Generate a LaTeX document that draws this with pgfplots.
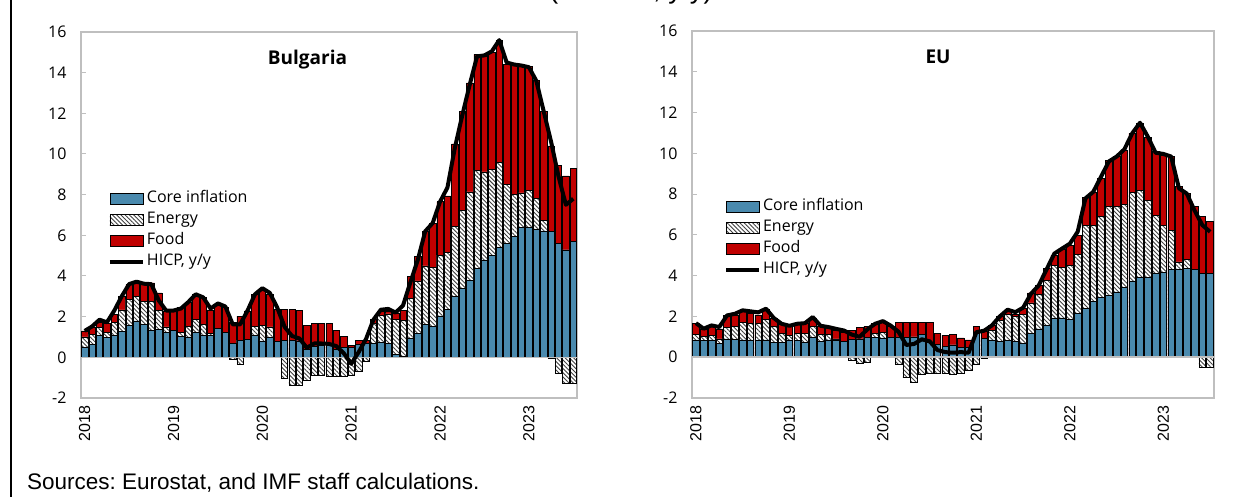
\documentclass[border=0pt]{standalone}
\usepackage{fontspec}
\usepackage{pgfplots}
\usepackage{pgfplotstable}
\pgfplotsset{compat=1.18}
\usetikzlibrary{patterns.meta}
\newfontfamily\seg{Open Sans}
\newfontfamily\ari{Liberation Sans}
\definecolor{coreblue}{HTML}{4A8AAE}
\definecolor{foodred}{HTML}{C00000}
\definecolor{framegray}{HTML}{BFBFBF}
\definecolor{hatchgray}{HTML}{404040}
\frenchspacing

% m = month (1 = Jan 2018); bar tops are cumulative: core, core+energy, core+energy+food
\pgfplotstableread{
m core engtop foodtop engneg hicp
1 0.49 1.00 1.30 nan 1.30
2 0.65 1.14 1.46 nan 1.52
3 1.06 1.46 1.74 nan 1.85
4 0.98 1.22 1.67 nan 1.72
5 1.09 1.70 2.10 nan 2.30
6 1.27 2.33 2.98 nan 3.00
7 1.58 2.85 3.58 nan 3.60
8 1.79 3.00 3.74 nan 3.72
9 1.60 2.76 3.66 nan 3.62
10 1.33 2.76 3.66 nan 3.60
11 1.37 2.30 3.17 nan 2.80
12 1.22 1.50 2.28 nan 2.30
13 1.33 1.33 2.28 nan 2.30
14 1.02 1.22 2.44 nan 2.40
15 1.00 1.54 2.70 nan 2.72
16 1.22 1.87 3.09 nan 3.10
17 1.06 1.60 2.93 nan 2.95
18 1.06 1.19 2.33 nan 2.40
19 1.41 1.41 2.55 nan 2.65
20 1.22 1.22 2.47 nan 2.50
21 0.68 0.68 1.70 -0.10 1.62
22 0.85 0.85 2.03 -0.33 1.62
23 0.90 0.90 2.28 nan 2.30
24 1.06 1.54 3.09 nan 3.10
25 0.81 1.58 3.33 nan 3.40
26 0.98 1.50 3.09 nan 3.17
27 0.78 0.78 2.36 nan 2.45
28 0.85 0.85 2.36 -1.02 1.50
29 0.85 0.85 2.36 -1.38 1.05
30 0.81 0.81 2.30 -1.38 0.93
31 0.40 0.40 1.58 -1.14 0.47
32 0.54 0.54 1.66 -0.90 0.68
33 0.57 0.57 1.66 -0.90 0.68
34 0.57 0.57 1.66 -0.95 0.66
35 0.40 0.40 1.33 -0.95 0.55
36 0.49 0.49 1.02 -0.95 0.20
37 0.49 0.49 0.57 -0.88 -0.32
38 0.62 0.62 0.82 -0.69 0.25
39 0.68 0.68 0.82 -0.20 0.90
40 0.70 1.68 1.87 nan 1.85
41 0.75 2.06 2.25 nan 2.34
42 0.67 2.14 2.25 nan 2.38
43 0.15 1.85 2.17 nan 2.20
44 0.05 1.80 2.30 nan 2.55
45 0.95 2.90 3.97 nan 3.70
46 1.19 3.76 4.95 nan 4.80
47 1.60 4.50 6.18 nan 6.20
48 1.52 4.43 6.58 nan 6.60
49 2.04 5.03 7.65 nan 7.65
50 2.34 5.15 7.94 nan 8.35
51 3.00 6.45 10.50 nan 10.30
52 3.40 7.24 12.10 nan 11.90
53 3.80 8.14 13.50 nan 13.40
54 4.38 9.20 14.90 nan 14.80
55 4.79 9.12 14.80 nan 14.85
56 5.03 9.23 15.00 nan 15.05
57 5.41 9.60 15.60 nan 15.60
58 5.60 8.50 14.40 nan 14.50
59 5.93 8.00 14.40 nan 14.40
60 6.39 8.09 14.40 nan 14.35
61 6.39 8.19 14.30 nan 14.27
62 6.29 7.81 13.60 nan 13.60
63 6.22 6.72 12.10 nan 12.10
64 6.18 6.18 10.40 -0.05 10.60
65 5.60 5.60 9.44 -0.77 8.90
66 5.28 5.28 8.92 -1.26 7.50
67 5.69 5.69 9.28 -1.26 7.80
}\bgdata

\pgfplotstableread{
m core engtop foodtop engneg hicp
1 0.85 1.10 1.64 nan 1.67
2 0.82 1.03 1.36 nan 1.40
3 0.85 1.07 1.52 nan 1.56
4 0.66 0.90 1.39 nan 1.48
5 0.90 1.48 2.05 nan 2.05
6 0.87 1.52 2.08 nan 2.13
7 0.85 1.72 2.30 nan 2.30
8 0.82 1.64 2.13 nan 2.25
9 0.85 1.64 2.08 nan 2.20
10 0.85 1.84 2.33 nan 2.38
11 0.74 1.52 1.89 nan 1.92
12 0.74 1.15 1.61 nan 1.64
13 0.85 1.07 1.51 nan 1.54
14 0.82 1.15 1.61 nan 1.64
15 0.74 1.18 1.67 nan 1.67
16 0.98 1.51 1.89 nan 1.97
17 0.79 1.10 1.52 nan 1.54
18 0.85 1.11 1.48 nan 1.48
19 0.85 0.90 1.31 nan 1.39
20 0.79 0.79 1.23 nan 1.31
21 0.87 0.87 1.31 -0.16 1.11
22 0.90 0.90 1.48 -0.30 1.00
23 0.98 0.98 1.52 -0.25 1.36
24 0.98 1.18 1.64 nan 1.64
25 0.95 1.23 1.72 nan 1.77
26 0.98 0.98 1.52 nan 1.55
27 0.98 0.98 1.72 -0.33 1.25
28 0.98 0.98 1.72 -1.00 0.60
29 1.00 1.00 1.72 -1.23 0.65
30 1.10 1.10 1.69 -0.82 0.88
31 0.74 0.74 1.69 -0.79 0.78
32 0.62 0.62 1.15 -0.80 0.35
33 0.54 0.54 1.07 -0.80 0.25
34 0.60 0.60 1.10 -0.85 0.22
35 0.50 0.50 0.95 -0.77 0.25
36 0.50 0.50 0.85 -0.65 0.22
37 1.15 1.15 1.50 -0.33 1.23
38 0.93 0.93 1.25 -0.05 1.30
39 0.85 1.31 1.56 nan 1.56
40 0.77 1.80 2.00 nan 2.00
41 0.82 2.10 2.30 nan 2.33
42 0.79 2.00 2.10 nan 2.21
43 0.66 2.10 2.38 nan 2.43
44 1.18 2.66 3.15 nan 3.11
45 1.39 3.08 3.52 nan 3.52
46 1.56 3.77 4.34 nan 4.30
47 1.93 4.50 5.00 nan 5.08
48 1.93 4.39 5.28 nan 5.33
49 1.84 4.50 5.49 nan 5.57
50 2.13 5.05 5.98 nan 6.15
51 2.38 6.48 7.84 nan 7.79
52 2.74 6.48 8.11 nan 8.11
53 2.95 6.92 8.77 nan 8.85
54 3.03 7.38 9.64 nan 9.60
55 3.20 7.38 9.84 nan 9.84
56 3.44 7.51 10.16 nan 10.20
57 3.74 8.07 10.98 nan 10.98
58 3.93 8.20 11.48 nan 11.50
59 3.93 7.70 10.79 nan 10.82
60 4.10 6.97 10.08 nan 10.03
61 4.15 6.48 9.92 nan 9.97
62 4.30 6.23 9.84 nan 9.84
63 4.33 4.67 8.36 nan 8.28
64 4.34 4.80 8.03 nan 8.03
65 4.30 4.30 7.38 nan 7.20
66 4.10 4.10 6.92 -0.49 6.48
67 4.13 4.13 6.67 -0.49 6.15
}\eudata

\pgfplotsset{
  barleg/.style={legend image code/.code={\draw[##1] (0bp,-5.5bp) rectangle (33bp,5.5bp);}},
  lineleg/.style={legend image code/.code={\draw[##1] (0bp,0bp) -- (33bp,0bp);}},
  energyfill/.style={fill=white, postaction={pattern={Lines[angle=-45,distance=3bp,line width=0.9bp]}, pattern color=hatchgray}},
  barbase/.style={ybar, bar width=0.86, bar shift=0pt, draw=black, line width=0.6bp, forget plot},
  panel/.style={
    scale only axis,
    xmin=0.5, xmax=67.5, ymin=-2, ymax=16,
    ytick={-2,0,...,16}, yticklabels={-2,0,2,4,6,8,10,12,14,16},
    ytick pos=left, tick align=inside, major tick length=5bp,
    y tick style={framegray, line width=1bp},
    xtick={1,13,25,37,49,61}, xticklabels={2018,2019,2020,2021,2022,2023},
    x tick style={draw=none},
    x tick label style={yshift=-4bp, rotate=90, anchor=east, font=\ari\fontsize{16bp}{16bp}\selectfont},
    y tick label style={xshift=-11bp, font=\seg\fontsize{16bp}{16bp}\selectfont},
    axis line style={framegray, line width=1.2bp},
    legend cell align=left,
    legend style={draw=none, fill=none, anchor=north west, inner sep=0pt,
      font=\seg\fontsize{16bp}{16bp}\selectfont,
      nodes={inner sep=2bp, text height=12bp, text depth=5bp}},
  },
}

\newcommand{\panelplots}[1]{%
  \addlegendimage{barleg, fill=coreblue, draw=black, line width=0.6bp}
  \addlegendentry{Core inflation}
  \addlegendimage{barleg, energyfill, draw=black, line width=0.6bp}
  \addlegendentry{Energy}
  \addlegendimage{barleg, fill=foodred, draw=black, line width=0.6bp}
  \addlegendentry{Food}
  \addlegendimage{lineleg, black, line width=4bp}
  \addlegendentry{HICP, y/y}
  \addplot[barbase, fill=foodred] table[x=m, y=foodtop] {#1};
  \addplot[barbase, energyfill] table[x=m, y=engtop] {#1};
  \addplot[barbase, fill=coreblue] table[x=m, y=core] {#1};
  \addplot[barbase, energyfill] table[x=m, y=engneg] {#1};
  \draw[framegray, line width=1.5bp] (axis cs:0.5,0) -- (axis cs:67.5,0);
  \addplot[black, line width=4bp, line join=round, forget plot] table[x=m, y=hicp] {#1};
}

\begin{document}
\begin{tikzpicture}[x=1bp, y=1bp]
\useasboundingbox (0,0) rectangle (1248,497);
\draw[black, line width=2bp] (11,0) -- (11,497);
% subtitle sits above the crop; only its descenders show
\node[anchor=base, inner sep=0pt, font=\ari\fontsize{27.5bp}{27.5bp}\selectfont] at (631,498) {(Percent, y/y)};

\begin{axis}[panel, at={(81bp,465bp)}, anchor=north west, width=496bp, height=366bp,
  legend style={at={(axis description cs:0.054,0.573)}}]
\panelplots{\bgdata}
\end{axis}
\node[font=\seg\bfseries\fontsize{19bp}{19bp}\selectfont] at (307.5,437) {Bulgaria};

\begin{axis}[panel, at={(692bp,466bp)}, anchor=north west, width=522bp, height=367bp,
  legend style={at={(axis description cs:0.061,0.550)}}]
\panelplots{\eudata}
\end{axis}
\node[font=\seg\bfseries\fontsize{19bp}{19bp}\selectfont] at (938,440) {EU};

\node[anchor=base west, inner sep=0pt, font=\ari\fontsize{22.5bp}{22.5bp}\selectfont] at (27,7) {Sources: Eurostat, and IMF staff calculations.};
\end{tikzpicture}
\end{document}
